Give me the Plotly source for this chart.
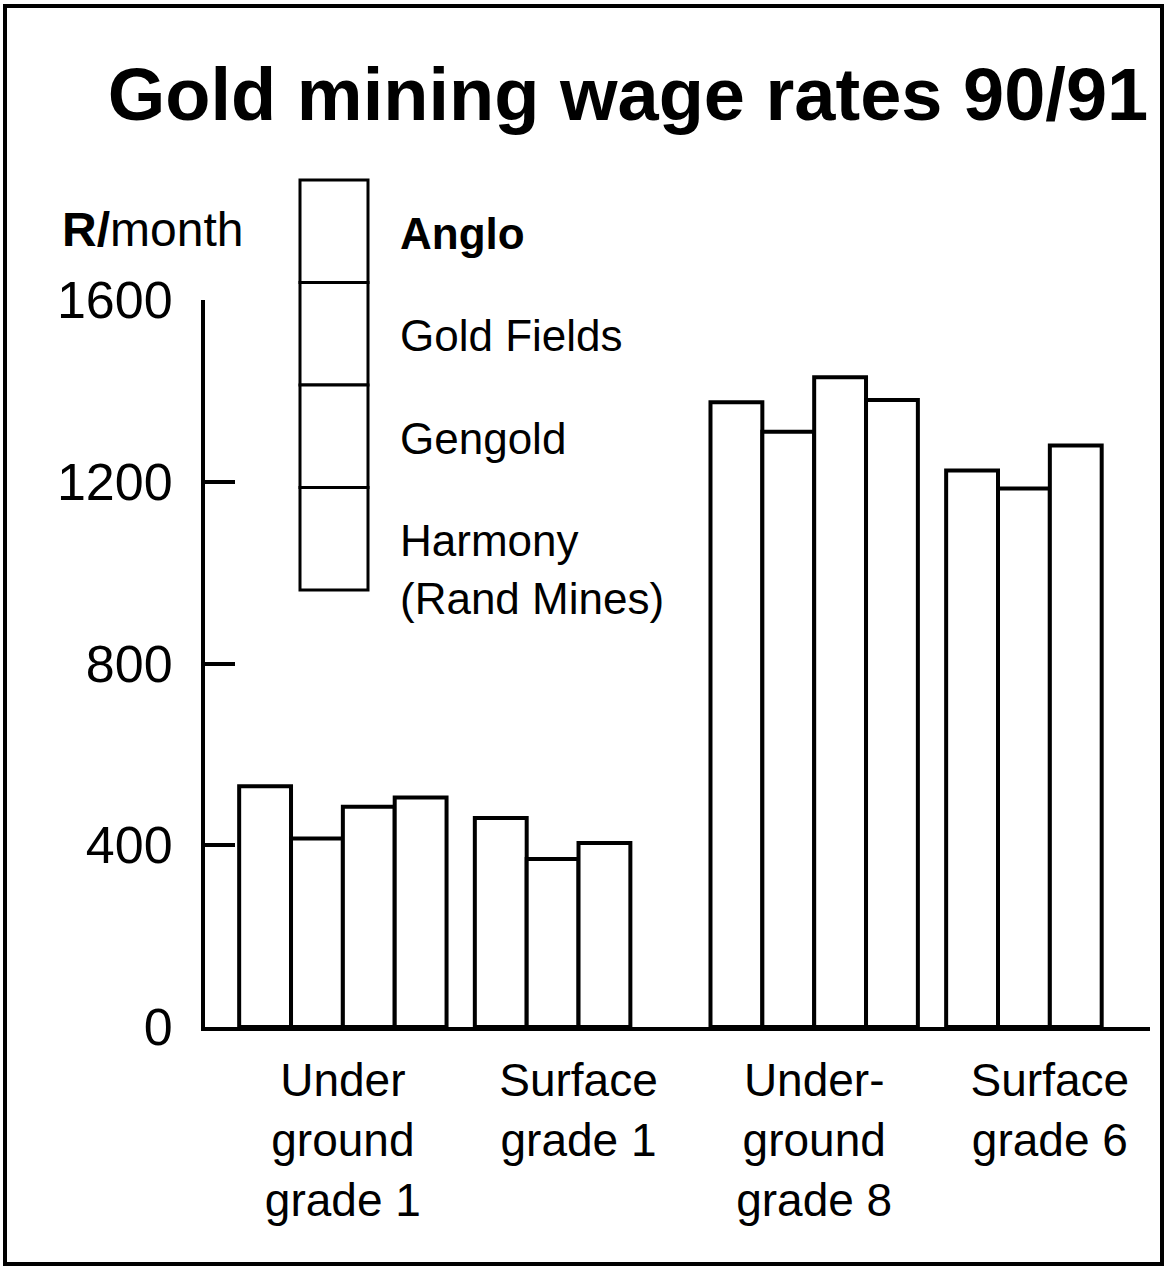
import plotly.graph_objects as go

# ---- data ----
categories = ["Under<br>ground<br>grade 1", "Surface<br>grade 1",
              "Under-<br>ground<br>grade 8", "Surface<br>grade 6"]
companies = ["Anglo", "Gold Fields", "Gengold", "Harmony<br>(Rand Mines)"]
anglo = [530, 460, 1375, 1225]
gold_fields = [415, 370, 1310, 1185]
gengold = [485, 405, 1430, 1280]
harmony = [505, None, 1380, None]
y_ticks = [0, 400, 800, 1200, 1600]
y_tick_labels = ["0", "400", "800", "1200", "1600"]

series = [anglo, gold_fields, gengold, harmony]

# ---- layout geometry (pixels) ----
W, H = 1167, 1270
PL, PR, PT, PB = 205, 1150, 300, 1027


def px2x(px):
    return (px - PL) / (PR - PL)


def px2y(py):
    return (PB - py) / (PB - PT)


FONT = "Liberation Sans, Arial, sans-serif"

fig = go.Figure()
for name, vals in zip(companies, series):
    fig.add_trace(go.Bar(
        x=list(range(len(categories))), y=vals, name=name.replace("<br>", " "),
        marker=dict(color="white", line=dict(color="black", width=4)),
        showlegend=False,
    ))

shapes = []
annotations = []

# stacked-box legend with labels
box_top, box_h = 180, 102.5
for i, name in enumerate(companies):
    y0 = box_top + i * box_h
    shapes.append(dict(type="rect", xref="paper", yref="paper",
                       x0=px2x(300), x1=px2x(368), y0=px2y(y0), y1=px2y(y0 + box_h),
                       line=dict(color="black", width=3), fillcolor="white"))
    lines = name.split("<br>")
    for j, ln in enumerate(lines):
        txt = "<b>" + ln + "</b>" if i == 0 else ln
        annotations.append(dict(text=txt, xref="paper", yref="paper",
                                x=px2x(398), y=px2y(y0 + box_h / 2 + 2 + j * 58),
                                xanchor="left", yanchor="middle", showarrow=False,
                                font=dict(size=44, color="black", family=FONT)))

annotations.append(dict(text="<b>R/</b>month", xref="paper", yref="paper",
                        x=px2x(60), y=px2y(230), xanchor="left", yanchor="middle",
                        showarrow=False, font=dict(size=48, color="black", family=FONT)))

# outer frame
shapes.append(dict(type="rect", xref="paper", yref="paper",
                   x0=px2x(5), x1=px2x(1162), y0=px2y(6), y1=px2y(1264),
                   line=dict(color="black", width=4)))

fig.update_layout(
    width=W, height=H,
    margin=dict(l=PL, r=W - PR, t=PT, b=H - PB, pad=0),
    paper_bgcolor="white", plot_bgcolor="white",
    barmode="group", bargap=0.12, bargroupgap=0,
    title=dict(text="<b>Gold mining wage rates 90/91</b>", xref="container", yref="container",
               x=628 / W, y=1 - 94 / H, xanchor="center", yanchor="middle",
               font=dict(size=74, color="black", family=FONT)),
    font=dict(family=FONT, color="black"),
    shapes=shapes, annotations=annotations,
    xaxis=dict(range=[-0.585, 3.425], tickmode="array",
               tickvals=list(range(len(categories))), ticktext=categories,
               showline=True, linecolor="black", linewidth=4, ticks="",
               showgrid=False, zeroline=False, ticklabelstandoff=10,
               tickfont=dict(size=46, color="black", family=FONT)),
    yaxis=dict(range=[0, 1600], tickmode="array", tickvals=y_ticks, ticktext=y_tick_labels,
               showline=True, linecolor="black", linewidth=4,
               ticks="inside", ticklen=30, tickwidth=4, tickcolor="black",
               showgrid=False, zeroline=False, ticklabelstandoff=18,
               tickfont=dict(size=52, color="black", family=FONT)),
)

fig.write_html("out.html", config={"displayModeBar": False},
               post_script="document.body.style.margin='0';document.body.style.overflow='hidden';")
